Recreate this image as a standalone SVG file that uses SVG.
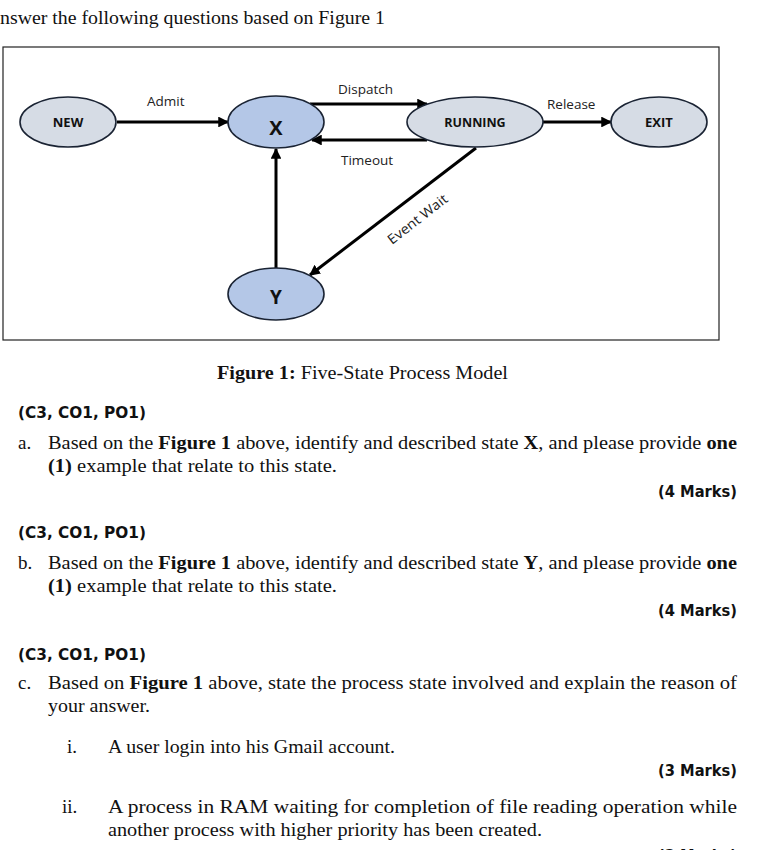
<svg xmlns="http://www.w3.org/2000/svg" width="784" height="850" viewBox="0 0 784 850">
<style>
.node{stroke:#1a2333;stroke-width:1.6}
.pale{fill:#d6dce5}
.blue{fill:#b4c7e7}
.nl{font-family:"Open Sans","Liberation Sans",sans-serif;font-weight:bold;fill:#111;text-anchor:middle}
.el{font-family:"Open Sans","Liberation Sans",sans-serif;font-size:13.5px;fill:#222}
.conn{stroke:#000;stroke-width:3;fill:none;marker-end:url(#ah)}
.body{font-family:"Liberation Serif","DejaVu Serif",serif;font-size:19px;fill:#111}
.hd{font-family:"DejaVu Sans","Liberation Sans",sans-serif;font-weight:bold;font-size:16px;fill:#111}
.b{font-weight:bold}
</style>
<defs>
<marker id="ah" viewBox="0 0 10 10" refX="9" refY="5" markerWidth="3.6" markerHeight="3.6" orient="auto" markerUnits="strokeWidth">
<path d="M0,0 L10,5 L0,10 z" fill="#000"/>
</marker>
</defs>
<rect width="784" height="850" fill="#fff"/>
<text class="body" x="0" y="24" textLength="385" lengthAdjust="spacingAndGlyphs">nswer the following questions based on Figure 1</text>
<rect x="3" y="47" width="716" height="293" fill="#fff" stroke="#222" stroke-width="1.2"/>
<g id="connectors">
<line class="conn" x1="117" y1="122" x2="228" y2="122"/>
<line class="conn" x1="310" y1="104" x2="427" y2="104"/>
<line class="conn" x1="427" y1="140" x2="312" y2="140"/>
<line class="conn" x1="543" y1="122" x2="611" y2="122"/>
<line class="conn" x1="276" y1="268" x2="276" y2="149"/>
<line class="conn" x1="476" y1="148" x2="310" y2="275"/>
<text class="el" x="147" y="106">Admit</text>
<text class="el" x="338" y="94">Dispatch</text>
<text class="el" x="341" y="165">Timeout</text>
<text class="el" x="547" y="109">Release</text>
<text class="el" x="0" y="0" transform="translate(392,245) rotate(-38)" textLength="72" lengthAdjust="spacingAndGlyphs">Event Wait</text>
</g>
<g id="node-new"><ellipse class="node pale" cx="68" cy="122" rx="48" ry="25"/><text class="nl" x="68" y="127" font-size="13">NEW</text></g>
<g id="node-x"><ellipse class="node blue" cx="276" cy="122" rx="48" ry="26"/><text class="nl" x="276" y="135" font-size="20">X</text></g>
<g id="node-running"><ellipse class="node pale" cx="475" cy="122" rx="68" ry="25"/><text class="nl" x="475" y="127" font-size="12.5">RUNNING</text></g>
<g id="node-exit"><ellipse class="node pale" cx="659" cy="122" rx="48" ry="25"/><text class="nl" x="659" y="127" font-size="13">EXIT</text></g>
<g id="node-y"><ellipse class="node blue" cx="276" cy="294" rx="48" ry="26"/><text class="nl" x="276" y="304" font-size="19">Y</text></g>

<text class="body" x="217" y="379" textLength="291" lengthAdjust="spacingAndGlyphs"><tspan class="b">Figure 1:</tspan> Five-State Process Model</text>

<text class="hd" x="18" y="418" textLength="128" lengthAdjust="spacingAndGlyphs">(C3, CO1, PO1)</text>
<text class="body" x="18" y="449">a.</text>
<text class="body" x="48" y="449" textLength="689" lengthAdjust="spacingAndGlyphs">Based on the <tspan class="b">Figure 1</tspan> above, identify and described state <tspan class="b">X</tspan>, and please provide <tspan class="b">one</tspan></text>
<text class="body" x="48" y="472" textLength="289" lengthAdjust="spacingAndGlyphs"><tspan class="b">(1)</tspan> example that relate to this state.</text>
<text class="hd" x="737" y="497" text-anchor="end" textLength="79" lengthAdjust="spacingAndGlyphs">(4 Marks)</text>

<text class="hd" x="18" y="538" textLength="128" lengthAdjust="spacingAndGlyphs">(C3, CO1, PO1)</text>
<text class="body" x="18" y="569">b.</text>
<text class="body" x="48" y="569" textLength="689" lengthAdjust="spacingAndGlyphs">Based on the <tspan class="b">Figure 1</tspan> above, identify and described state <tspan class="b">Y</tspan>, and please provide <tspan class="b">one</tspan></text>
<text class="body" x="48" y="592" textLength="289" lengthAdjust="spacingAndGlyphs"><tspan class="b">(1)</tspan> example that relate to this state.</text>
<text class="hd" x="737" y="616" text-anchor="end" textLength="79" lengthAdjust="spacingAndGlyphs">(4 Marks)</text>

<text class="hd" x="18" y="660" textLength="128" lengthAdjust="spacingAndGlyphs">(C3, CO1, PO1)</text>
<text class="body" x="18" y="689">c.</text>
<text class="body" x="48" y="689" textLength="689" lengthAdjust="spacingAndGlyphs">Based on <tspan class="b">Figure 1</tspan> above, state the process state involved and explain the reason of</text>
<text class="body" x="48" y="712" textLength="102" lengthAdjust="spacingAndGlyphs">your answer.</text>

<text class="body" x="67" y="753">i.</text>
<text class="body" x="108" y="753" textLength="287" lengthAdjust="spacingAndGlyphs">A user login into his Gmail account.</text>
<text class="hd" x="737" y="776" text-anchor="end" textLength="79" lengthAdjust="spacingAndGlyphs">(3 Marks)</text>

<text class="body" x="62" y="813">ii.</text>
<text class="body" x="108" y="813" textLength="629" lengthAdjust="spacingAndGlyphs">A process in RAM waiting for completion of file reading operation while</text>
<text class="body" x="108" y="836" textLength="434" lengthAdjust="spacingAndGlyphs">another process with higher priority has been created.</text>
<text class="hd" x="737" y="861" text-anchor="end" textLength="79" lengthAdjust="spacingAndGlyphs">(3 Marks)</text>
</svg>
